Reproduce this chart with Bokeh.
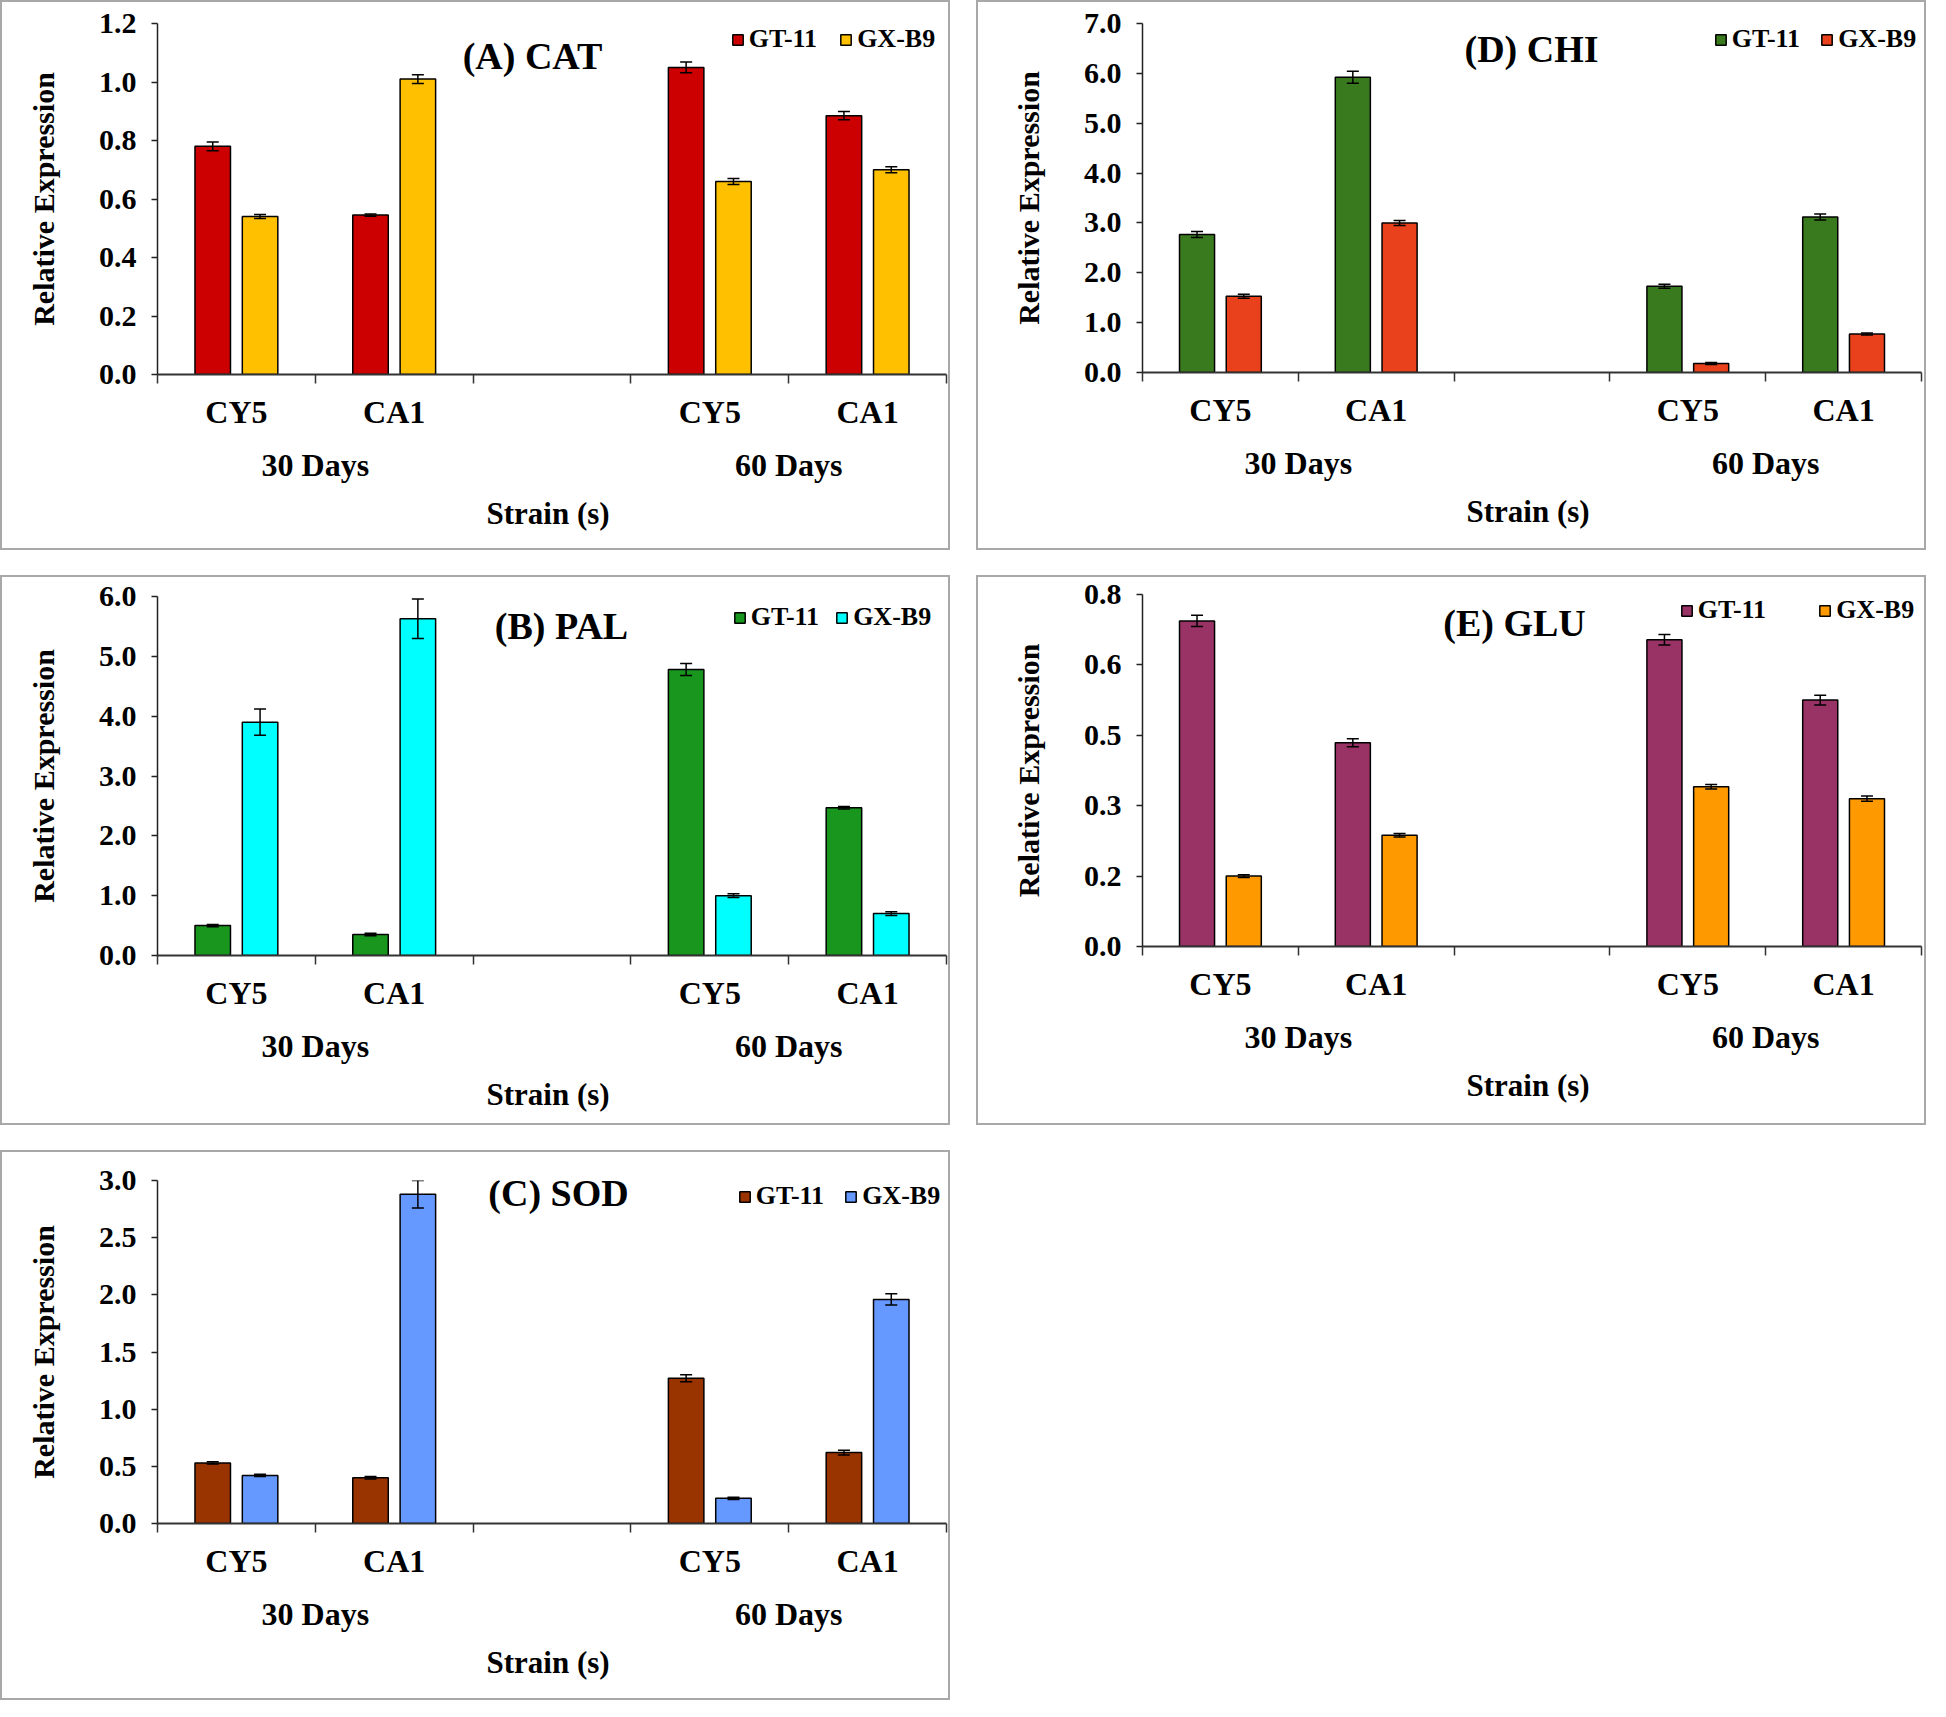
from bokeh.plotting import figure
from bokeh.models import (ColumnDataSource, Range1d, LinearAxis, FixedTicker,
                          NumeralTickFormatter, Whisker, TeeHead, Legend,
                          LegendItem, Label)
from bokeh.layouts import row, column
from bokeh.embed import file_html
from bokeh.resources import INLINE

# ---------------- data ----------------
strains = ["CY5", "CA1", "CY5", "CA1"]
periods = ["30 Days", "60 Days"]
series_names = ["GT-11", "GX-B9"]
slot_index = [0, 1, 3, 4]          # slot 2 is an empty spacer slot
n_slots = 5

cat_gt = [0.78, 0.545, 1.05, 0.885]
cat_gt_err = [0.015, 0.004, 0.018, 0.014]
cat_gx = [0.54, 1.01, 0.66, 0.70]
cat_gx_err = [0.007, 0.015, 0.010, 0.010]

pal_gt = [0.50, 0.35, 4.78, 2.47]
pal_gt_err = [0.02, 0.02, 0.10, 0.02]
pal_gx = [3.90, 5.63, 1.00, 0.70]
pal_gx_err = [0.22, 0.33, 0.03, 0.03]

sod_gt = [0.53, 0.40, 1.27, 0.62]
sod_gt_err = [0.01, 0.01, 0.03, 0.02]
sod_gx = [0.42, 2.88, 0.22, 1.96]
sod_gx_err = [0.01, 0.12, 0.01, 0.05]

chi_gt = [2.77, 5.92, 1.73, 3.12]
chi_gt_err = [0.06, 0.12, 0.04, 0.06]
chi_gx = [1.53, 3.00, 0.18, 0.77]
chi_gx_err = [0.04, 0.05, 0.02, 0.02]

glu_gt = [0.740, 0.463, 0.697, 0.560]
glu_gt_err = [0.013, 0.009, 0.012, 0.011]
glu_gx = [0.160, 0.253, 0.363, 0.336]
glu_gx_err = [0.003, 0.004, 0.005, 0.006]

cat_ticks = [0.0, 0.2, 0.4, 0.6, 0.8, 1.0, 1.2]
pal_ticks = [0, 1, 2, 3, 4, 5, 6]
sod_ticks = [0.0, 0.5, 1.0, 1.5, 2.0, 2.5, 3.0]
chi_ticks = [0, 1, 2, 3, 4, 5, 6, 7]
glu_ticks = [0.0, 0.16, 0.32, 0.48, 0.64, 0.80]

# ---------------- style ----------------
FONT = "Liberation Serif"
PW, PH = 950, 550
BAR_W = 0.225
OFFSET = 0.15
LEG_FS = 26

panels = {
    "A": dict(title="(A) CAT", gt=cat_gt, gte=cat_gt_err, gx=cat_gx, gxe=cat_gx_err,
              ticks=cat_ticks, c1="#CC0000", c2="#FFC000",
              frame=(154, 21, 790, 351), tpos=(375, 32), leg=(6, 16), lsp=22),
    "B": dict(title="(B) PAL", gt=pal_gt, gte=pal_gt_err, gx=pal_gx, gxe=pal_gx_err,
              ticks=pal_ticks, c1="#18961E", c2="#00FFFF",
              frame=(146, 19, 800, 359), tpos=(404, 29), leg=(20, 21), lsp=16),
    "C": dict(title="(C) SOD", gt=sod_gt, gte=sod_gt_err, gx=sod_gx, gxe=sod_gx_err,
              ticks=sod_ticks, c1="#993300", c2="#6699FF",
              frame=(155, 28, 792, 343), tpos=(401, 12), leg=(3, 16), lsp=20),
    "D": dict(title="(D) CHI", gt=chi_gt, gte=chi_gt_err, gx=chi_gx, gxe=chi_gx_err,
              ticks=chi_ticks, c1="#3A7A1E", c2="#E8411C",
              frame=(153, 21, 794, 349), tpos=(389, 25), leg=(14, 16), lsp=20),
    "E": dict(title="(E) GLU", gt=glu_gt, gte=glu_gt_err, gx=glu_gx, gxe=glu_gx_err,
              ticks=glu_ticks, c1="#993366", c2="#FF9900",
              frame=(164, 17, 779, 352), tpos=(372, 28), leg=(1, 16), lsp=52),
}


def make_panel(cfg):
    L, T, FW, FH = cfg["frame"]
    ticks = cfg["ticks"]
    p = figure(width=PW, height=PH, output_backend="svg", toolbar_location=None,
               x_range=Range1d(0, n_slots), y_range=Range1d(0, ticks[-1]),
               min_border_left=L, min_border_top=T,
               min_border_right=max(PW - L - FW, 0), min_border_bottom=PH - T - FH)
    p.outline_line_color = None
    p.xgrid.visible = False
    p.ygrid.visible = False
    p.background_fill_color = "white"
    p.border_fill_color = "white"
    p.styles = {"border": "2px solid #a8a8a8", "box-sizing": "border-box"}

    # bars
    renderers = []
    for vals, errs, col, sign in ((cfg["gt"], cfg["gte"], cfg["c1"], -1),
                                  (cfg["gx"], cfg["gxe"], cfg["c2"], 1)):
        xs = [s + 0.5 + sign * OFFSET for s in slot_index]
        src = ColumnDataSource(dict(x=xs, top=vals,
                                    upper=[v + e for v, e in zip(vals, errs)],
                                    lower=[v - e for v, e in zip(vals, errs)]))
        r = p.vbar(x="x", top="top", bottom=0, width=BAR_W, source=src,
                   fill_color=col, line_color="black", line_width=1.5)
        renderers.append(r)
        w = Whisker(base="x", upper="upper", lower="lower", source=src,
                    level="overlay",
                    line_color="black", line_width=1.5,
                    upper_head=TeeHead(size=12, line_color="black", line_width=1.5),
                    lower_head=TeeHead(size=12, line_color="black", line_width=1.5))
        p.add_layout(w)

    # y axis
    ya = p.yaxis[0]
    ya.ticker = FixedTicker(ticks=ticks)
    ya.formatter = NumeralTickFormatter(format="0.0")
    ya.major_tick_out = 6
    ya.major_tick_in = 0
    ya.minor_tick_line_color = None
    ya.axis_line_color = "#222222"
    ya.axis_line_width = 1.5
    ya.major_tick_line_color = "#222222"
    ya.major_tick_line_width = 1.5
    ya.major_label_text_font = FONT
    ya.major_label_text_font_style = "bold"
    ya.major_label_text_font_size = "30px"
    ya.major_label_text_color = "black"
    ya.major_label_standoff = 15
    ya.axis_label = "Relative Expression"
    ya.axis_label_text_font = FONT
    ya.axis_label_text_font_style = "bold"
    ya.axis_label_text_font_size = "30px"
    ya.axis_label_text_color = "black"
    ya.axis_label_standoff = 36

    # x axis 1: slot boundary ticks
    xa = p.xaxis[0]
    bounds = list(range(n_slots + 1))
    xa.ticker = FixedTicker(ticks=bounds)
    xa.major_label_overrides = {b: "" for b in bounds}
    xa.major_label_text_font_size = "1px"
    xa.major_label_standoff = 0
    xa.major_tick_out = 9
    xa.major_tick_in = 0
    xa.minor_tick_line_color = None
    xa.axis_line_color = "#333333"
    xa.axis_line_width = 2
    xa.major_tick_line_color = "#333333"
    xa.major_tick_line_width = 1.5

    # x axis 2: strain labels
    strain_x = [s + 0.5 for s in slot_index]
    xa2 = LinearAxis(ticker=FixedTicker(ticks=strain_x),
                     major_label_overrides=dict(zip(strain_x, strains)))
    # x axis 3: period labels + title
    period_x = [(slot_index[0] + slot_index[1]) / 2 + 0.5,
                (slot_index[2] + slot_index[3]) / 2 + 0.5]
    xa3 = LinearAxis(ticker=FixedTicker(ticks=period_x),
                     major_label_overrides=dict(zip(period_x, periods)),
                     axis_label="Strain  (s)")
    for ax, stand in ((xa2, 10), (xa3, 14)):
        ax.axis_line_color = None
        ax.major_tick_line_color = None
        ax.minor_tick_line_color = None
        ax.major_tick_out = 0
        ax.major_tick_in = 0
        ax.major_label_standoff = stand
        ax.major_label_text_font = FONT
        ax.major_label_text_font_style = "bold"
        ax.major_label_text_font_size = "32px"
        ax.major_label_text_color = "black"
    xa3.axis_label_text_font = FONT
    xa3.axis_label_text_font_style = "bold"
    xa3.axis_label_text_font_size = "31px"
    xa3.axis_label_text_color = "black"
    xa3.axis_label_standoff = 10
    p.add_layout(xa2, "below")
    p.add_layout(xa3, "below")

    # title
    dx, dy = cfg["tpos"]
    p.add_layout(Label(x=dx, y=FH - dy, x_units="screen", y_units="screen",
                       text=cfg["title"], text_align="center", text_baseline="middle",
                       text_font=FONT, text_font_style="bold", text_font_size="38px",
                       text_color="black"))

    # legend
    inset, ldy = cfg["leg"]
    lsp = cfg["lsp"]
    est_w = 13 + 6 + 2.78 * LEG_FS + lsp + 13 + 6 + 3.0 * LEG_FS
    est_h = 30
    leg = Legend(items=[LegendItem(label=series_names[0], renderers=[renderers[0]]),
                        LegendItem(label=series_names[1], renderers=[renderers[1]])],
                 orientation="horizontal",
                 location=(FW - inset - est_w, FH - ldy - est_h / 2),
                 background_fill_alpha=0, border_line_color=None,
                 label_text_font=FONT, label_text_font_style="bold",
                 label_text_font_size=f"{LEG_FS}px", label_text_color="black",
                 glyph_width=13, glyph_height=13, label_standoff=5,
                 spacing=lsp, padding=0, margin=0)
    p.add_layout(leg)
    return p


pA = make_panel(panels["A"])
pB = make_panel(panels["B"])
pC = make_panel(panels["C"])
pD = make_panel(panels["D"])
pE = make_panel(panels["E"])

layout = row(column(pA, pB, pC, spacing=25), column(pD, pE, spacing=25), spacing=26)

open("out.html", "w").write(file_html(layout, INLINE))
